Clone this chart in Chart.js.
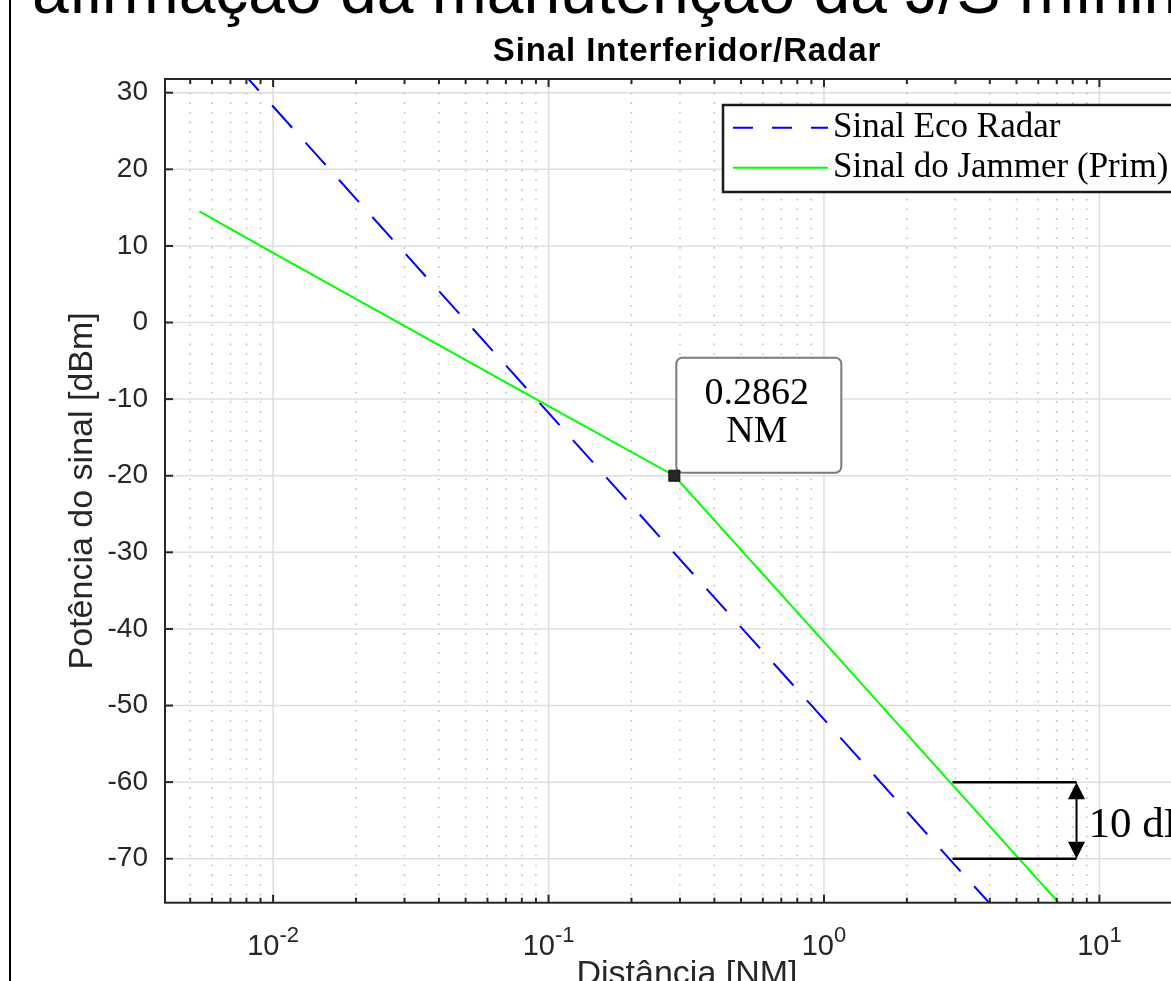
<!DOCTYPE html>
<html>
<head>
<meta charset="utf-8">
<script src="https://cdn.jsdelivr.net/npm/chart.js@4.4.1/dist/chart.umd.min.js"></script>
<style>
  html, body { margin: 0; padding: 0; overflow: hidden; background: #fff; }
  #wrap { position: relative; width: 1171px; height: 981px; overflow: hidden; }
  #wrap canvas { position: absolute; left: 0; top: 0; }
</style>
</head>
<body>
<div id="wrap"><canvas id="chart" width="1260" height="981"></canvas></div>
<script>
// valores
const seriesNames = ['Sinal Eco Radar', 'Sinal do Jammer (Prim)'];
const radarDist  = [0.0075, 0.01, 0.03, 0.1, 0.2862, 1, 3, 3.97];
const radarPower = [33.2, 28.2, 9.1, -11.8, -30.1, -51.8, -70.9, -75.7];
const jamDist  = [0.0054, 0.01, 0.1, 0.2862, 1, 2.9, 7.1];
const jamPower = [14.5, 9.1, -10.9, -20, -41.7, -60.2, -75.7];

// ponto marcado e faixa de 10 dB
const markDist  = [0.2862];
const markPower = [-20];
const markText  = ['0.2862', 'NM'];
const gapDist   = [2.93, 8.26];
const gapPower  = [-60, -70];
const gapText   = '10 dB';

// ticks
const xDecades = [0.01, 0.1, 1, 10];
const xMinor = [0.005, 0.006, 0.007, 0.008, 0.009,
                0.02, 0.03, 0.04, 0.05, 0.06, 0.07, 0.08, 0.09,
                0.2, 0.3, 0.4, 0.5, 0.6, 0.7, 0.8, 0.9,
                2, 3, 4, 5, 6, 7, 8, 9, 20];
const yTicks = [-70, -60, -50, -40, -30, -20, -10, 0, 10, 20, 30];

const headText = 'afirmação da manutenção da J/S mínima';
const titleText = 'Sinal Interferidor/Radar';
const xLabel = 'Distância [NM]';
const yLabel = 'Potência do sinal [dBm]';

const SANS = "'Liberation Sans', Arial, sans-serif";
const SERIF = "'Liberation Serif', 'Times New Roman', serif";
const AXIS = '#262626';

function seg(ctx, x1, y1, x2, y2) {
  ctx.beginPath();
  ctx.moveTo(x1, y1);
  ctx.lineTo(x2, y2);
  ctx.stroke();
}

function roundBox(ctx, x, y, w, h, r) {
  ctx.beginPath();
  ctx.moveTo(x + r, y);
  ctx.arcTo(x + w, y, x + w, y + h, r);
  ctx.arcTo(x + w, y + h, x, y + h, r);
  ctx.arcTo(x, y + h, x, y, r);
  ctx.arcTo(x, y, x + w, y, r);
  ctx.closePath();
}

const figurePlugin = {
  id: 'figure',
  beforeDatasetsDraw(chart) {
    const { ctx, chartArea: a, scales: { x, y } } = chart;
    ctx.save();
    // grade principal
    ctx.strokeStyle = '#dedede';
    ctx.lineWidth = 1.5;
    xDecades.forEach(v => { const px = x.getPixelForValue(v); seg(ctx, px, a.top, px, a.bottom); });
    yTicks.forEach(v => { const py = y.getPixelForValue(v); seg(ctx, a.left, py, a.right, py); });
    // grade secundária pontilhada
    ctx.strokeStyle = '#bdbdbd';
    ctx.setLineDash([1.6, 8.05]);
    ctx.lineDashOffset = -4;
    xMinor.forEach(v => { const px = x.getPixelForValue(v); seg(ctx, px, a.top, px, a.bottom); });
    ctx.setLineDash([]);

    // caixa do rótulo do ponto
    const mx = x.getPixelForValue(markDist[0]);
    const my = y.getPixelForValue(markPower[0]);
    const bx = mx + 2, bw = 165, bh = 115, by = my - 3 - bh;
    roundBox(ctx, bx, by, bw, bh, 6);
    ctx.fillStyle = '#fff';
    ctx.fill();
    ctx.strokeStyle = '#7a7a7a';
    ctx.lineWidth = 2;
    ctx.stroke();
    ctx.fillStyle = '#000';
    ctx.font = '38px ' + SERIF;
    ctx.textAlign = 'center';
    ctx.textBaseline = 'alphabetic';
    ctx.fillText(markText[0], bx + bw / 2 - 2, my - 72);
    ctx.fillText(markText[1], bx + bw / 2 - 2, my - 34);
    ctx.restore();
  },
  afterDatasetsDraw(chart) {
    const { ctx, chartArea: a, scales: { x, y } } = chart;
    ctx.save();
    // caixa dos eixos e ticks
    ctx.strokeStyle = AXIS;
    ctx.lineWidth = 2;
    ctx.strokeRect(a.left, a.top, a.right - a.left, a.bottom - a.top);
    xDecades.forEach(v => {
      const px = x.getPixelForValue(v);
      seg(ctx, px, a.bottom, px, a.bottom - 8);
      seg(ctx, px, a.top, px, a.top + 8);
    });
    xMinor.forEach(v => {
      const px = x.getPixelForValue(v);
      seg(ctx, px, a.bottom, px, a.bottom - 5);
      seg(ctx, px, a.top, px, a.top + 5);
    });
    yTicks.forEach(v => {
      const py = y.getPixelForValue(v);
      seg(ctx, a.left, py, a.left + 8, py);
      seg(ctx, a.right, py, a.right - 8, py);
    });

    // faixa de 10 dB
    const gx1 = x.getPixelForValue(gapDist[0]);
    const gx2 = x.getPixelForValue(gapDist[1]);
    const gy1 = y.getPixelForValue(gapPower[0]);
    const gy2 = y.getPixelForValue(gapPower[1]);
    ctx.strokeStyle = '#000';
    ctx.fillStyle = '#000';
    ctx.lineWidth = 2.5;
    seg(ctx, gx1, gy1, gx2, gy1);
    seg(ctx, gx1, gy2, gx2, gy2);
    ctx.lineWidth = 2;
    seg(ctx, gx2, gy1 + 10, gx2, gy2 - 10);
    ctx.beginPath();
    ctx.moveTo(gx2, gy1); ctx.lineTo(gx2 - 8.5, gy1 + 17); ctx.lineTo(gx2 + 8.5, gy1 + 17);
    ctx.closePath(); ctx.fill();
    ctx.beginPath();
    ctx.moveTo(gx2, gy2); ctx.lineTo(gx2 - 8.5, gy2 - 17); ctx.lineTo(gx2 + 8.5, gy2 - 17);
    ctx.closePath(); ctx.fill();
    ctx.font = '43px ' + SERIF;
    ctx.textAlign = 'left';
    ctx.textBaseline = 'alphabetic';
    ctx.fillText(gapText, gx2 + 12, (gy1 + gy2) / 2 + 17);

    // legenda
    const lx = 723, ly = 105, lw = 460, lh = 87;
    ctx.fillStyle = '#fff';
    ctx.fillRect(lx, ly, lw, lh);
    ctx.strokeStyle = '#1a1a1a';
    ctx.lineWidth = 2.5;
    ctx.strokeRect(lx, ly, lw, lh);
    ctx.font = '35px ' + SERIF;
    ctx.fillStyle = '#000';
    chart.data.datasets.slice(0, 2).forEach((ds, i) => {
      const rowY = ly + 22.7 + i * 40;
      ctx.strokeStyle = ds.borderColor;
      ctx.lineWidth = 2;
      ctx.setLineDash(ds.borderDash ? [20, 19] : []);
      seg(ctx, lx + 10, rowY, lx + 105, rowY);
      ctx.setLineDash([]);
      ctx.fillText(ds.label, lx + 110, rowY + 9.3);
    });
    ctx.restore();
  },
  afterDraw(chart) {
    const { ctx, chartArea: a, scales: { x } } = chart;
    ctx.save();
    // moldura à esquerda
    ctx.strokeStyle = '#000';
    ctx.lineWidth = 2;
    seg(ctx, 10, 0, 10, chart.height);

    // texto do slide cortado no topo
    ctx.fillStyle = '#000';
    ctx.font = '66px ' + SANS;
    ctx.textAlign = 'left';
    ctx.textBaseline = 'alphabetic';
    ctx.fillText(headText, 32, 13);

    // título
    const cx = (a.left + a.right) / 2;
    ctx.font = 'bold 33px ' + SANS;
    ctx.textAlign = 'center';
    if ('letterSpacing' in ctx) ctx.letterSpacing = '0.9px';
    ctx.fillText(titleText, cx, 61);
    if ('letterSpacing' in ctx) ctx.letterSpacing = '0px';

    // rótulos do eixo x com expoente
    ctx.fillStyle = AXIS;
    xDecades.forEach(v => {
      const px = x.getPixelForValue(v);
      const base = '10';
      const sup = String(Math.round(Math.log10(v)));
      ctx.font = '29px ' + SANS;
      const wb = ctx.measureText(base).width;
      ctx.font = '22px ' + SANS;
      const ws = ctx.measureText(sup).width;
      const sx = px - (wb + ws) / 2;
      ctx.textAlign = 'left';
      ctx.font = '29px ' + SANS;
      ctx.fillText(base, sx, 955);
      ctx.font = '22px ' + SANS;
      ctx.fillText(sup, sx + wb, 942);
    });

    // títulos dos eixos
    ctx.font = '34px ' + SANS;
    ctx.textAlign = 'center';
    ctx.fillText(xLabel, cx, 984);
    ctx.translate(92, (a.top + a.bottom) / 2);
    ctx.rotate(-Math.PI / 2);
    ctx.fillText(yLabel, 0, 0);
    ctx.restore();
  }
};

new Chart(document.getElementById('chart'), {
  type: 'line',
  data: {
    datasets: [
      {
        label: seriesNames[0],
        data: radarDist.map((d, i) => ({ x: d, y: radarPower[i] })),
        borderColor: '#0000ff',
        borderWidth: 2,
        borderDash: [30, 20],
        pointRadius: 0,
        tension: 0,
        order: 2
      },
      {
        label: seriesNames[1],
        data: jamDist.map((d, i) => ({ x: d, y: jamPower[i] })),
        borderColor: '#00ff00',
        borderWidth: 2,
        pointRadius: 0,
        tension: 0,
        order: 1
      },
      {
        label: 'ponto',
        data: markDist.map((d, i) => ({ x: d, y: markPower[i] })),
        showLine: false,
        pointStyle: 'rect',
        pointRadius: 7.8,
        pointBackgroundColor: '#262626',
        pointBorderColor: '#111',
        pointBorderWidth: 1,
        order: 0
      }
    ]
  },
  options: {
    responsive: false,
    animation: false,
    devicePixelRatio: 1,
    events: [],
    layout: { padding: { left: 0, top: 79, right: 51, bottom: 0 } },
    plugins: {
      legend: { display: false },
      title: { display: false },
      tooltip: { enabled: false }
    },
    scales: {
      x: {
        type: 'logarithmic',
        min: 0.00405,
        max: 25,
        grid: { display: false, drawTicks: false },
        border: { display: false },
        ticks: { display: false },
        afterBuildTicks: s => { s.ticks = xDecades.concat(xMinor).map(v => ({ value: v })); },
        afterFit: s => { s.height = 78.3; }
      },
      y: {
        type: 'linear',
        min: -75.74,
        max: 31.79,
        grid: { display: false, drawTicks: false },
        border: { display: false },
        ticks: { font: { family: 'Liberation Sans', size: 28 }, color: AXIS, padding: 17 },
        afterBuildTicks: s => { s.ticks = yTicks.map(v => ({ value: v })); },
        afterFit: s => { s.width = 165; }
      }
    }
  },
  plugins: [figurePlugin]
});
</script>
</body>
</html>
